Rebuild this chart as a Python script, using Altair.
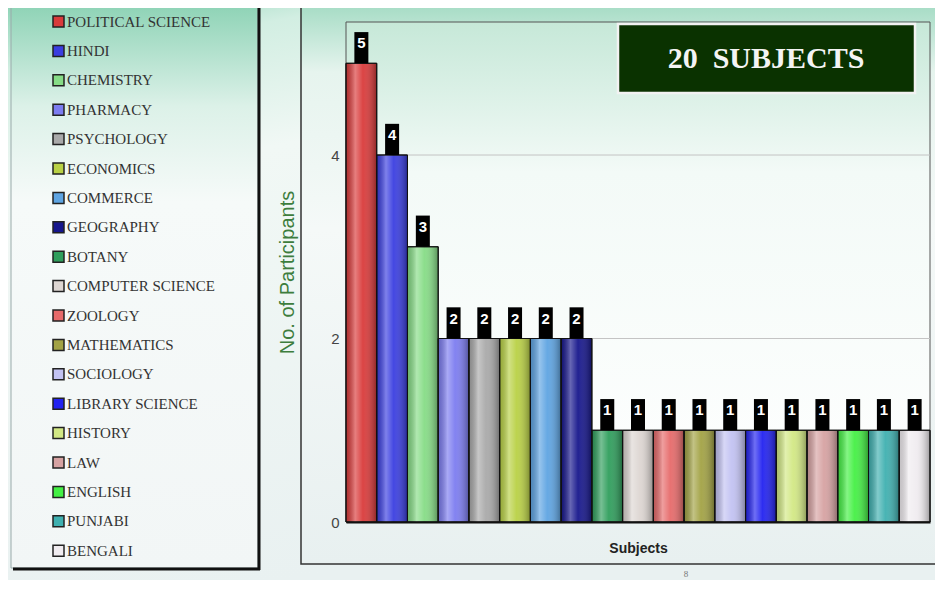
import altair as alt
import pandas as pd

subjects = ["POLITICAL SCIENCE", "HINDI", "CHEMISTRY", "PHARMACY", "PSYCHOLOGY",
            "ECONOMICS", "COMMERCE", "GEOGRAPHY", "BOTANY", "COMPUTER SCIENCE",
            "ZOOLOGY", "MATHEMATICS", "SOCIOLOGY", "LIBRARY SCIENCE", "HISTORY",
            "LAW", "ENGLISH", "PUNJABI", "BENGALI"]
participants = [5, 4, 3, 2, 2, 2, 2, 2, 1, 1, 1, 1, 1, 1, 1, 1, 1, 1, 1]
bar_colors = ["#d93a3a", "#3a3ee0", "#86dc86", "#7c7cf0", "#a9a9a9",
              "#b9d145", "#5ea4e2", "#16168c", "#2f9e5c", "#ddd6d2",
              "#e66a6a", "#a2a244", "#c2c2f2", "#2222f0", "#d2e884",
              "#d6a2a2", "#44f044", "#3fb0b0", "#f0ecf0"]
y_ticks = [0, 2, 4]
grid_values = [2, 4]
title_text = "20\u00a0\u00a0SUBJECTS"
y_title = "No. of Participants"
x_title = "Subjects"
page_number = "8"

df = pd.DataFrame({"subject": subjects, "count": participants})
df["top"] = df["count"] + 0.34

W, H = 584, 500


def vgrad(stops, x2=0, y2=1):
    return {"gradient": "linear", "x1": 0, "y1": 0, "x2": x2, "y2": y2,
            "stops": [{"offset": o, "color": c} for o, c in stops]}


one = pd.DataFrame({"d": [0]})
dec = alt.Chart(one)

bg = dec.mark_rect(fill=vgrad([(0, "#92d5b9"), (0.1, "#d2eee2"), (0.3, "#f1f8f5"), (1, "#e9f1f1")], x2=0.3)).encode(
    x=alt.value(-338), x2=alt.value(589), y=alt.value(-14), y2=alt.value(558))

legbox = dec.mark_rect(fill=vgrad([(0, "#8ed3b6"), (0.18, "#dcf1e8"), (0.35, "#f6faf9"), (1, "#f2f6f6")]),
                       stroke="#9aa", strokeWidth=1).encode(
    x=alt.value(-335), x2=alt.value(-88), y=alt.value(-17), y2=alt.value(546))
shadow_r = dec.mark_rule(color="#111", strokeWidth=3).encode(
    x=alt.value(-87), y=alt.value(-17), y2=alt.value(548))
shadow_b = dec.mark_rule(color="#111", strokeWidth=3).encode(
    x=alt.value(-333), x2=alt.value(-86), y=alt.value(547))

frame = dec.mark_rect(fill=vgrad([(0, "#a6dcc5"), (0.12, "#e6f4ee"), (0.4, "#f5f9f8"), (1, "#e8f0f0")]),
                      stroke="#333", strokeWidth=1.5).encode(
    x=alt.value(-45), x2=alt.value(592), y=alt.value(-17), y2=alt.value(542))

plotbg = dec.mark_rect(fill=vgrad([(0, "#c6e8d8"), (0.3, "#f3faf7"), (1, "#ffffff")]),
                       stroke="#555", strokeWidth=1).encode(
    x=alt.value(0), x2=alt.value(W), y=alt.value(0), y2=alt.value(H))

titlebox = dec.mark_rect(fill="#0a3200", stroke="#f2f2f2", strokeWidth=2.5).encode(
    x=alt.value(272), x2=alt.value(569), y=alt.value(2), y2=alt.value(71))
titletext = dec.mark_text(font="Liberation Serif", fontWeight="bold", fontSize=30, color="#f4f4f4",
                          align="center", baseline="middle").encode(
    x=alt.value(420), y=alt.value(37), text=alt.value(title_text))
pagenum = dec.mark_text(font="Liberation Serif", fontSize=9, color="#777", align="center",
                        baseline="middle").encode(
    x=alt.value(340), y=alt.value(552), text=alt.value(page_number))

yaxis = alt.Axis(values=y_ticks, grid=False, ticks=False, domain=False, labelFont="Liberation Sans",
                 labelFontSize=15, labelColor="#444", labelPadding=7, titleFont="Liberation Sans",
                 titleFontSize=20, titleFontWeight="normal", titleColor="#3d7d3d", titleX=-59,
                 titleY=H / 2, titleAngle=270, titleBaseline="middle", zindex=1)
yscale = alt.Scale(domain=[0, 5.45], nice=False, zero=True)

grid = alt.Chart(pd.DataFrame({"g": grid_values})).mark_rule(color="#c4c4c4", strokeWidth=1).encode(
    y=alt.Y("g:Q", scale=yscale, axis=yaxis, title=y_title))

base = alt.Chart(df).encode(
    x=alt.X("subject:N", sort=subjects, scale=alt.Scale(paddingInner=0, paddingOuter=0),
            axis=alt.Axis(labels=False, ticks=False, domainColor="#111", domainWidth=2,
                          titleFont="Liberation Sans", titleFontWeight="bold", titleFontSize=14,
                          titleColor="#222", titleY=26, titleBaseline="middle", zindex=1),
            title=x_title),
    y=alt.Y("count:Q", scale=yscale, axis=yaxis, title=y_title),
)

bars = base.mark_bar(stroke="#111", strokeWidth=1).encode(
    color=alt.Color("subject:N", sort=subjects,
                    scale=alt.Scale(domain=subjects, range=bar_colors),
                    legend=alt.Legend(orient="none", legendX=-295, legendY=-8, title=None,
                                      symbolType="square", symbolSize=121, symbolStrokeColor="#222",
                                      symbolStrokeWidth=1.5, symbolOpacity=1,
                                      labelFont="Liberation Serif", labelFontSize=15,
                                      labelColor="#333", rowPadding=12.4, labelOffset=1,
                                      padding=0, labelLimit=300, zindex=1)))

shade = base.mark_bar(fill={"gradient": "linear", "x1": 0, "y1": 0, "x2": 1, "y2": 0,
                            "stops": [{"offset": 0, "color": "rgba(0,0,0,0.18)"},
                                      {"offset": 0.3, "color": "rgba(255,255,255,0.35)"},
                                      {"offset": 0.55, "color": "rgba(255,255,255,0.05)"},
                                      {"offset": 1, "color": "rgba(0,0,0,0.35)"}]},
                      stroke="#111", strokeWidth=1)

tags = base.mark_bar(size=14, color="#000").encode(y2="top:Q")
labels = base.mark_text(color="white", font="Liberation Sans", fontWeight="bold", fontSize=15,
                        dy=-20, baseline="middle", align="center").encode(text="count:Q")

chart = alt.layer(bg, legbox, shadow_r, shadow_b, frame, plotbg, grid, titlebox, titletext, pagenum,
                  bars, shade, tags, labels).properties(
    width=W, height=H,
    autosize=alt.AutoSizeParams(type="none"),
    padding={"left": 338, "top": 14, "right": 5, "bottom": 58},
    background="#eaf1f1",
).configure_view(stroke=None)

chart.save("out.html", embed_options={"renderer": "svg", "actions": False})
